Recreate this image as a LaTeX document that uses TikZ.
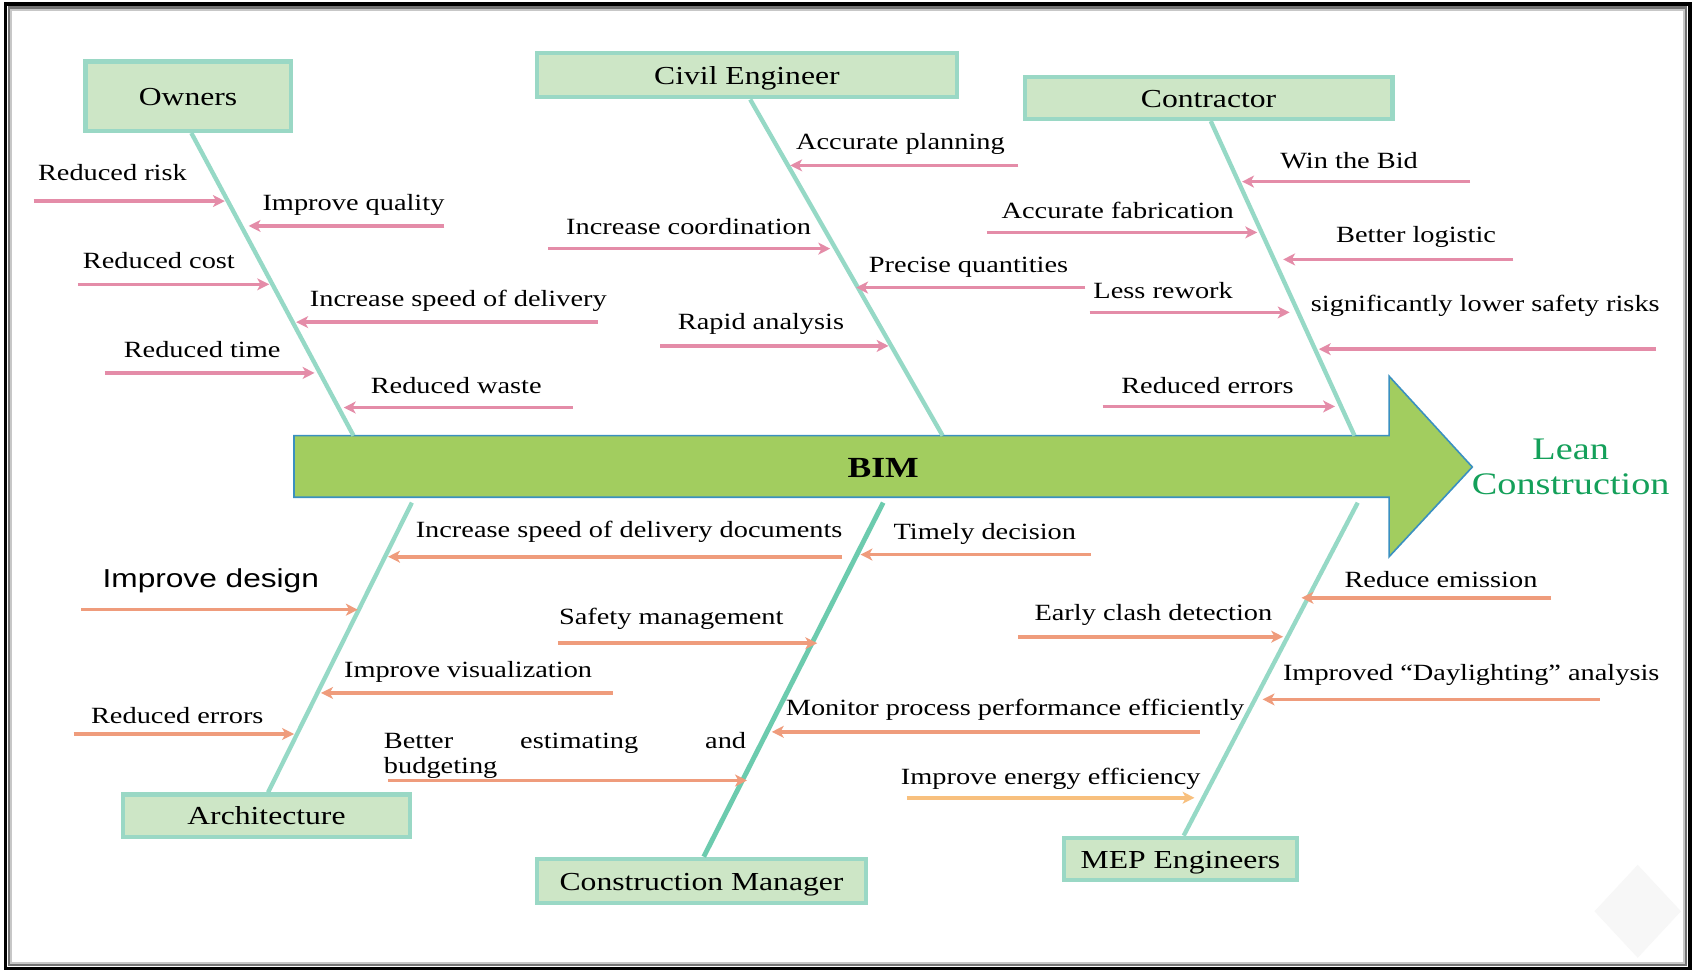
\documentclass[tikz,border=0pt]{standalone}
\usepackage{fontspec}
\setmainfont{Liberation Serif}[FakeStretch=1.22]
\newfontfamily\sansf{Liberation Sans}[FakeStretch=1.22]
\usetikzlibrary{arrows.meta}
\definecolor{pinkA}{HTML}{E48CA8}
\definecolor{orgA}{HTML}{EF9C7C}
\definecolor{yelA}{HTML}{F8C07E}
\definecolor{boneC}{HTML}{96D9C6}
\definecolor{boneD}{HTML}{6CCBAE}
\definecolor{boxF}{HTML}{CDE6C6}
\definecolor{boxL}{HTML}{9AD8C5}
\definecolor{barF}{HTML}{A2CD5F}
\definecolor{barL}{HTML}{3A90C0}
\definecolor{leanC}{HTML}{14A05A}
\tikzset{
  catbox/.style={draw=boxL, line width=4pt, fill=boxF, inner sep=0pt, text height=17pt, text depth=0pt, font=\fontsize{24}{28}\selectfont},
  lbl/.style={inner sep=0pt, yshift=-2pt, font=\fontsize{21.5}{24}\selectfont},
  bone/.style={draw=boneC, line width=4pt},
  pcause/.style={draw=pinkA, line width=3.3pt, -{Stealth[length=11pt,width=11pt,inset=3pt]}},
  ocause/.style={draw=orgA, line width=3.3pt, -{Stealth[length=11pt,width=11pt,inset=3pt]}},
}
\begin{document}
\begin{tikzpicture}[x=1pt,y=-1pt]
\useasboundingbox (0,0) rectangle (1568,900);
\fill[white] (0,0) rectangle (1568,900);
% frame
\draw[line width=3.5pt, black] (5,3.5) rectangle (1563,896);
\draw[line width=2pt, black!55] (8.5,7) rectangle (1559.5,892.5);
\draw[line width=2pt, black!22] (10.5,9) rectangle (1557.5,890.5);
% faint watermark
\fill[black!3] (1515,800) -- (1555,843) -- (1515,886) -- (1475,843) -- cycle;

% main arrow
\draw[fill=barF, draw=barL, line width=1.5pt] (272,403) -- (1285,403) -- (1285,348) -- (1362,432) -- (1285,515) -- (1285,460) -- (272,460) -- cycle;
\node[inner sep=0pt, font=\fontsize{27}{30}\selectfont\bfseries] (bim) at (817,433) {BIM};
\node[inner sep=0pt, align=center, text=leanC, font=\fontsize{29}{33}\selectfont] (lean) at (1453,432) {Lean\\Construction};

% category boxes
\node[catbox, minimum width=190pt, minimum height=64pt] (own) at (174,89) {Owners};
\node[catbox, minimum width=388pt, minimum height=41pt] (civ) at (691,69.5) {Civil Engineer};
\node[catbox, minimum width=340pt, minimum height=39pt] (con) at (1118,90.5) {Contractor};
\node[catbox, minimum width=265pt, minimum height=39pt] (arc) at (246.5,754.5) {Architecture};
\node[catbox, minimum width=304pt, minimum height=41pt] (cm) at (649,815) {Construction Manager};
\node[catbox, minimum width=216pt, minimum height=39pt] (mep) at (1092,794.5) {MEP Engineers};

% bone ends on the bar
\coordinate (ownB) at (327,403);
\coordinate (civB) at (872,403);
\coordinate (conB) at (1253,403);
\coordinate (arcB) at (381,465);
\coordinate (cmB) at (817,465);
\coordinate (mepB) at (1256,465);
\draw[bone] ([xshift=3pt]own.south) -- (ownB);
\draw[bone] ([xshift=3pt]civ.south) -- (civB);
\draw[bone] ([xshift=2pt]con.south) -- (conB);
\draw[bone] ([xshift=1.5pt]arc.north) -- (arcB);
\draw[bone, draw=boneD, line width=4.5pt] ([xshift=2pt]cm.north) -- (cmB);
\draw[bone] ([xshift=3pt]mep.north) -- (mepB);

% Owners causes
\node[lbl] (o1) at (104,158) {Reduced risk};
\coordinate (o1s) at (31,186); \coordinate (o1e) at (208,186);
\draw[pcause] (o1s) -- (o1e);
\node[lbl] (o2) at (327,188) {Improve quality};
\coordinate (o2s) at (411,209); \coordinate (o2e) at (230,209);
\draw[pcause] (o2s) -- (o2e);
\node[lbl] (o3) at (147,239) {Reduced cost};
\coordinate (o3s) at (72,263); \coordinate (o3e) at (249,263);
\draw[pcause] (o3s) -- (o3e);
\node[lbl] (o4) at (424,276) {Increase speed of delivery};
\coordinate (o4s) at (553,298); \coordinate (o4e) at (274,298);
\draw[pcause] (o4s) -- (o4e);
\node[lbl] (o5) at (187,321) {Reduced time};
\coordinate (o5s) at (97,345); \coordinate (o5e) at (291,345);
\draw[pcause] (o5s) -- (o5e);
\node[lbl] (o6) at (422,355) {Reduced waste};
\coordinate (o6s) at (530,377); \coordinate (o6e) at (318,377);
\draw[pcause] (o6s) -- (o6e);

% Civil Engineer causes
\node[lbl] (c1) at (833,131) {Accurate planning};
\coordinate (c1s) at (942,153); \coordinate (c1e) at (731,153);
\draw[pcause] (c1s) -- (c1e);
\node[lbl] (c2) at (637,208) {Increase coordination};
\coordinate (c2s) at (507,230); \coordinate (c2e) at (768,230);
\draw[pcause] (c2s) -- (c2e);
\node[lbl] (c3) at (896,245) {Precise quantities};
\coordinate (c3s) at (1004,266); \coordinate (c3e) at (792,266);
\draw[pcause] (c3s) -- (c3e);
\node[lbl] (c4) at (704,298) {Rapid analysis};
\coordinate (c4s) at (611,320); \coordinate (c4e) at (822,320);
\draw[pcause] (c4s) -- (c4e);

% Contractor causes
\node[lbl] (k1) at (1248,147) {Win the Bid};
\coordinate (k1s) at (1360,168); \coordinate (k1e) at (1149,168);
\draw[pcause] (k1s) -- (k1e);
\node[lbl] (k2) at (1034,193) {Accurate fabrication};
\coordinate (k2s) at (913,215); \coordinate (k2e) at (1163,215);
\draw[pcause] (k2s) -- (k2e);
\node[lbl] (k3) at (1310,217) {Better logistic};
\coordinate (k3s) at (1400,240); \coordinate (k3e) at (1187,240);
\draw[pcause] (k3s) -- (k3e);
\node[lbl] (k4) at (1076,267) {Less rework};
\coordinate (k4s) at (1008,289); \coordinate (k4e) at (1193,289);
\draw[pcause] (k4s) -- (k4e);
\node[lbl] (k5) at (1374,281) {significantly lower safety risks};
\coordinate (k5s) at (1532,323); \coordinate (k5e) at (1220,323);
\draw[pcause] (k5s) -- (k5e);
\node[lbl] (k6) at (1117,355) {Reduced errors};
\coordinate (k6s) at (1020,376); \coordinate (k6e) at (1235,376);
\draw[pcause] (k6s) -- (k6e);

% Architecture causes
\node[lbl] (a1) at (582,490) {Increase speed of delivery documents};
\coordinate (a1s) at (779,515); \coordinate (a1e) at (359,515);
\draw[ocause] (a1s) -- (a1e);
\node[lbl, font=\sansf\fontsize{24}{28}\selectfont] (a2) at (195,535) {Improve design};
\coordinate (a2s) at (75,564); \coordinate (a2e) at (331,564);
\draw[ocause] (a2s) -- (a2e);
\node[lbl] (a3) at (433,620) {Improve visualization};
\coordinate (a3s) at (567,641); \coordinate (a3e) at (297,641);
\draw[ocause] (a3s) -- (a3e);
\node[lbl] (a4) at (164,660) {Reduced errors};
\coordinate (a4s) at (68,679); \coordinate (a4e) at (272,679);
\draw[ocause] (a4s) -- (a4e);

% Construction Manager causes
\node[lbl] (m1) at (911,492) {Timely decision};
\coordinate (m1s) at (1009,513); \coordinate (m1e) at (796,513);
\draw[ocause] (m1s) -- (m1e);
\node[lbl] (m2) at (621,570) {Safety management};
\coordinate (m2s) at (516,595); \coordinate (m2e) at (756,595);
\draw[ocause] (m2s) -- (m2e);
\node[lbl] (m3) at (939,655) {Monitor process performance efficiently};
\coordinate (m3s) at (1110,677); \coordinate (m3e) at (714,677);
\draw[ocause] (m3s) -- (m3e);
\node[lbl, anchor=north west, align=left] (m4) at (355,675) {\makebox[335pt][s]{Better estimating and}\\[-1pt]budgeting};
\coordinate (m4s) at (359,722); \coordinate (m4e) at (691,722);
\draw[ocause] (m4s) -- (m4e);

% MEP causes
\node[lbl] (e1) at (1333,534) {Reduce emission};
\coordinate (e1s) at (1435,553); \coordinate (e1e) at (1204,553);
\draw[ocause] (e1s) -- (e1e);
\node[lbl] (e2) at (1067,567) {Early clash detection};
\coordinate (e2s) at (942,589); \coordinate (e2e) at (1187,589);
\draw[ocause] (e2s) -- (e2e);
\node[lbl] (e3) at (1361,622) {Improved “Daylighting” analysis};
\coordinate (e3s) at (1480,647); \coordinate (e3e) at (1168,647);
\draw[ocause] (e3s) -- (e3e);
\node[lbl] (e4) at (972,718) {Improve energy efficiency};
\coordinate (e4s) at (839,738); \coordinate (e4e) at (1105,738);
\draw[ocause, draw=yelA] (e4s) -- (e4e);
\end{tikzpicture}
\end{document}
